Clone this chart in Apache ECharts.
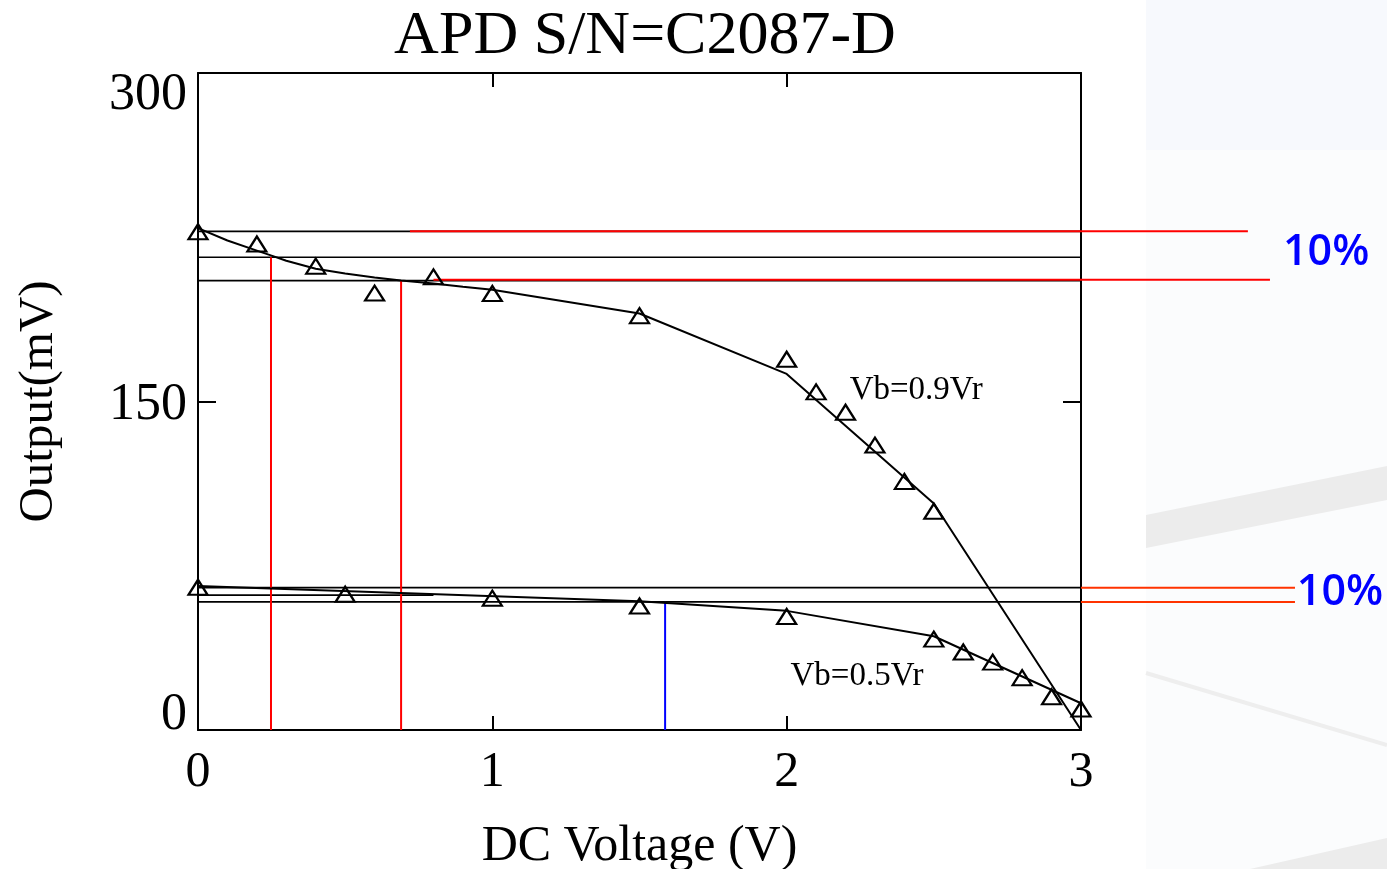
<!DOCTYPE html>
<html>
<head>
<meta charset="utf-8">
<script src="https://cdn.jsdelivr.net/npm/echarts@6/dist/echarts.min.js"></script>
<style>
html,body{margin:0;padding:0;background:#ffffff;}
#chart{width:1387px;height:869px;}
</style>
</head>
<body>
<div id="chart"></div>
<script>
// ---- data ----
const xTicks = [0, 1, 2, 3];
const yTicks = [0, 150, 300];

// Vb = 0.9Vr : measured points (triangles)
const upperX = [0, 0.2, 0.4, 0.6, 0.8, 1.0, 1.5, 2.0, 2.1, 2.2, 2.3, 2.4, 2.5];
const upperY = [227.5, 221.9, 211.8, 199.5, 206.9, 199.3, 189.2, 169.3, 154.4, 145.1, 130.1, 113.5, 99.9];
// Vb = 0.9Vr : fitted curve
const upperFitX = [0, 0.1, 0.2, 0.25, 0.3, 0.4, 0.5, 0.6, 0.69, 0.8, 0.9, 1.0, 1.5, 2.0, 2.5, 3.0];
const upperFitY = [229.2, 223.5, 218.9, 216.6, 214.3, 210.6, 208.4, 206.6, 205.3, 203.9, 202.4, 201.0, 190.2, 162.6, 103.4, 0];

// Vb = 0.5Vr : measured points (triangles)
const lowerX = [0, 0.5, 1.0, 1.5, 2.0, 2.5, 2.6, 2.7, 2.8, 2.9, 3.0];
const lowerY = [65.2, 62.0, 60.2, 56.6, 51.8, 41.5, 35.6, 31.0, 23.9, 15.2, 9.6];
// Vb = 0.5Vr : fitted curve
const lowerFitX = [0, 1.5, 2.0, 2.5, 3.0];
const lowerFitY = [65.7, 58.8, 54.4, 42.8, 12.2];

// reference levels (100% / 95% / 90%)
const upperLevels = [227.7, 215.9, 205.2];
const upperRedLevels = [227.7, 205.6];
const lowerLevels = [65.0, 61.6, 58.5];
// cut-off voltages
const redCutX = [0.248, 0.69];
const blueCutX = 1.587;

// ---- helpers ----
const zip = (xs, ys) => xs.map((x, i) => [x, ys[i]]);
const SERIF = "'Liberation Serif','Times New Roman',serif";
const SANS = "'Open Sans','DejaVu Sans',sans-serif";

function seg(name, pts, color, width, z, wide) {
  return {
    name: name, type: 'line', data: pts, symbol: 'none', clip: false,
    xAxisIndex: wide ? 2 : 0, yAxisIndex: wide ? 2 : 0,
    lineStyle: {color: color, width: width, opacity: 1}, z: z || 3, silent: true, animation: false
  };
}
function textMark(x, y, text, style, wide) {
  return {
    type: 'scatter', data: [[x, y]], symbolSize: 1, clip: false, silent: true, animation: false,
    xAxisIndex: wide ? 2 : 0, yAxisIndex: wide ? 2 : 0,
    itemStyle: {color: 'rgba(0,0,0,0)', opacity: 1},
    label: Object.assign({show: true, position: 'inside', opacity: 1, formatter: text}, style)
  };
}

const series = [];
// horizontal black guides (upper)
series.push(seg('u100', [[0, upperLevels[0]], [3, upperLevels[0]]], '#000', 1.6));
series.push(seg('u95', [[0, upperLevels[1]], [3, upperLevels[1]]], '#000', 1.6));
series.push(seg('u90', [[0, upperLevels[2]], [3, upperLevels[2]]], '#000', 1.6));
// horizontal black guides (lower)
series.push(seg('l100', [[0, lowerLevels[0]], [3, lowerLevels[0]]], '#000', 1.6));
series.push(seg('l95', [[0, lowerLevels[1]], [0.8, lowerLevels[1]]], '#000', 1.6));
series.push(seg('l90', [[0, lowerLevels[2]], [3, lowerLevels[2]]], '#000', 1.6));
// red extensions (drawn on the wide overlay grid so they can leave the frame)
series.push(seg('r1', [[0.72, upperRedLevels[0]], [3.567, upperRedLevels[0]]], '#ff0000', 2, 4, true));
series.push(seg('r2', [[0.80, upperRedLevels[1]], [3.642, upperRedLevels[1]]], '#ff0000', 2, 4, true));
series.push(seg('r3', [[3.0, lowerLevels[0]], [3.727, lowerLevels[0]]], '#ff3300', 2, 4, true));
series.push(seg('r4', [[3.0, lowerLevels[2]], [3.727, lowerLevels[2]]], '#ff3300', 2, 4, true));
// vertical cut lines
series.push(seg('v1', [[redCutX[0], upperLevels[1]], [redCutX[0], 0]], '#ff0000', 2, 4));
series.push(seg('v2', [[redCutX[1], upperLevels[2]], [redCutX[1], 0]], '#ff0000', 2, 4));
series.push(seg('v3', [[blueCutX, lowerLevels[2]], [blueCutX, 0]], '#0000ff', 2, 4));
// fitted curves
series.push(seg('upperFit', zip(upperFitX, upperFitY), '#000', 2, 5));
series.push(seg('lowerFit', zip(lowerFitX, lowerFitY), '#000', 2, 5));
// measured points
[zip(upperX, upperY), zip(lowerX, lowerY)].forEach(function (d) {
  series.push({
    type: 'scatter', data: d, symbol: 'triangle', symbolSize: [19, 15], clip: false,
    itemStyle: {color: 'rgba(0,0,0,0)', borderColor: '#000', borderWidth: 2.2, opacity: 1},
    z: 6, silent: true, animation: false
  });
});
// annotations
series.push(textMark(2.44, 155, 'Vb=0.9Vr', {fontFamily: SERIF, fontSize: 33, color: '#000'}));
series.push(textMark(2.239, 24.6, 'Vb=0.5Vr', {fontFamily: SERIF, fontSize: 33, color: '#000'}));
series.push(textMark(3.833, 217.8, '10%', {fontFamily: SANS, fontSize: 43, fontWeight: 600, color: '#0000ff'}, true));
series.push(textMark(3.88, 62.5, '10%', {fontFamily: SANS, fontSize: 43, fontWeight: 600, color: '#0000ff'}, true));

const axisLineStyle = {show: true, onZero: false, lineStyle: {color: '#000', width: 2}};
const xTickStyle = {show: true, inside: true, length: 14, lineStyle: {color: '#000', width: 2}};
const yTickStyle = {show: true, inside: true, length: 18, lineStyle: {color: '#000', width: 2}};
const hidden = {show: false};

const option = {
  backgroundColor: '#ffffff',
  animation: false,
  title: {
    text: 'APD S/N=C2087-D',
    left: 640, top: 1, textAlign: 'center',
    textStyle: {fontFamily: SERIF, fontSize: 62, fontWeight: 'normal', color: '#000'}
  },
  graphic: [
    {type: 'rect', z: -10, shape: {x: 1146, y: 0, width: 241, height: 869}, style: {fill: '#fbfcfd'}},
    {type: 'rect', z: -9, shape: {x: 1146, y: 0, width: 241, height: 150}, style: {fill: '#f7f9fd'}},
    {type: 'polygon', z: -8, shape: {points: [[1146, 515], [1387, 466], [1387, 500], [1146, 548]]}, style: {fill: '#ececec'}},
    {type: 'polyline', z: -8, shape: {points: [[1146, 673], [1387, 745]]}, style: {stroke: '#eeeeee', lineWidth: 4}},
    {type: 'polygon', z: -8, shape: {points: [[1250, 869], [1387, 838], [1387, 869]]}, style: {fill: '#ececec'}}
  ],
  grid: [
    {left: 198, top: 73, width: 883, height: 657, containLabel: false, outerBoundsMode: 'none'},
    {left: 198, top: 73, width: 1189, height: 657, containLabel: false, outerBoundsMode: 'none'}
  ],
  xAxis: [{
    type: 'value', gridIndex: 0, min: 0, max: 3, interval: 1, position: 'bottom',
    name: 'DC Voltage (V)', nameLocation: 'middle', nameGap: 92,
    nameTextStyle: {fontFamily: SERIF, fontSize: 50, color: '#000'},
    axisLine: axisLineStyle, axisTick: xTickStyle, splitLine: hidden,
    axisLabel: {fontFamily: SERIF, fontSize: 50, color: '#000', margin: 18,
      formatter: function (v) { return xTicks.indexOf(v) >= 0 ? String(v) : ''; }}
  }, {
    type: 'value', gridIndex: 0, min: 0, max: 3, interval: 1, position: 'top',
    axisLine: axisLineStyle, axisTick: xTickStyle, splitLine: hidden,
    axisLabel: hidden
  }, {
    type: 'value', gridIndex: 1, min: 0, max: 1189 / 883 * 3,
    axisLine: hidden, axisTick: hidden, splitLine: hidden, axisLabel: hidden
  }],
  yAxis: [{
    type: 'value', gridIndex: 0, min: 0, max: 300, interval: 150, position: 'left',
    name: 'Output(mV)', nameLocation: 'middle', nameGap: 134, nameRotate: 90,
    nameTextStyle: {fontFamily: SERIF, fontSize: 49, color: '#000'},
    axisLine: axisLineStyle, axisTick: yTickStyle, splitLine: hidden,
    axisLabel: {
      fontFamily: SERIF, fontSize: 52, color: '#000', margin: 11,
      formatter: function (v) {
        if (yTicks.indexOf(v) < 0) return '';
        if (v === 300) return '{a|' + v + '}';
        if (v === 0) return '{c|' + v + '}';
        return '{b|' + v + '}';
      },
      rich: {
        a: {fontFamily: SERIF, fontSize: 52, color: '#000', padding: [44, 0, 0, 0]},
        b: {fontFamily: SERIF, fontSize: 52, color: '#000', padding: [8, 0, 0, 0]},
        c: {fontFamily: SERIF, fontSize: 52, color: '#000', padding: [0, 0, 30, 0]}
      }
    }
  }, {
    type: 'value', gridIndex: 0, min: 0, max: 300, interval: 150, position: 'right',
    axisLine: axisLineStyle, axisTick: yTickStyle, splitLine: hidden,
    axisLabel: hidden
  }, {
    type: 'value', gridIndex: 1, min: 0, max: 300,
    axisLine: hidden, axisTick: hidden, splitLine: hidden, axisLabel: hidden
  }],
  series: series
};

const chart = echarts.init(document.getElementById('chart'), null, {renderer: 'canvas'});
chart.setOption(option);
</script>
</body>
</html>
